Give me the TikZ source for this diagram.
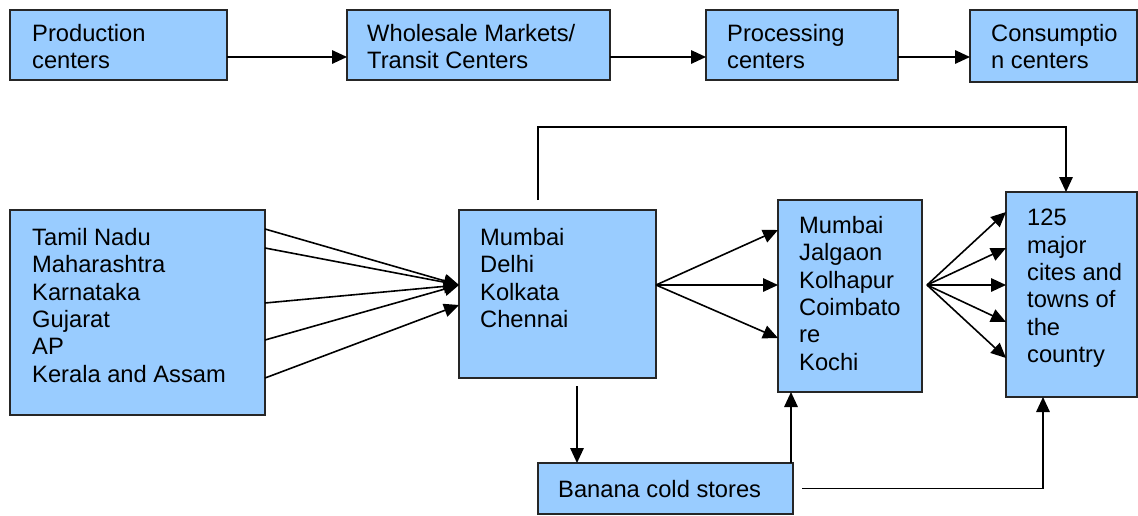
\documentclass[tikz,border=0pt]{standalone}
\usepackage{fontspec}
\setmainfont{Liberation Sans}
\usetikzlibrary{arrows.meta}
\definecolor{boxblue}{RGB}{153,204,255}
\begin{document}
\begin{tikzpicture}[x=1pt,y=-1pt,
  box/.style={draw=black!85, line width=1.7pt, fill=boxblue, inner sep=0pt, outer sep=0pt, anchor=north west},
  txt/.style={anchor=north west, inner sep=0pt, align=left, font=\fontsize{23.7}{27.4}\selectfont},
  conn/.style={line width=1.6pt, -{Triangle[length=15pt,width=13.5pt]}},
  plainline/.style={line width=1.6pt}]
\useasboundingbox (0,0) rectangle (1138,515);
% top row
\node[box, minimum width=217pt, minimum height=70pt] (p) at (10,10) {};
\node[box, minimum width=263pt, minimum height=70pt] (w) at (347,10) {};
\node[box, minimum width=192pt, minimum height=70pt] (pc) at (706,10) {};
\node[box, minimum width=167pt, minimum height=72pt] (cc) at (970,10) {};
\node[txt] (pt) at (32,24) {Production\\centers};
\node[txt] (wt) at (367,24) {Wholesale Markets/\\Transit Centers};
\node[txt] (pct) at (727,24) {Processing\\centers};
\node[txt] (cct) at (991,24) {Consumptio\\n centers};
\draw[conn] ([yshift=-47pt]p.north east) -- ([yshift=-47pt]w.north west);
\draw[conn] ([yshift=-47pt]w.north east) -- ([yshift=-47pt]pc.north west);
\draw[conn] ([yshift=-47pt]pc.north east) -- ([yshift=-47pt]cc.north west);
% bottom
\node[box, minimum width=255pt, minimum height=205pt] (l) at (10,210) {};
\node[box, minimum width=197pt, minimum height=168pt] (m) at (459,210) {};
\node[box, minimum width=144pt, minimum height=192pt] (b) at (778,200) {};
\node[box, minimum width=131pt, minimum height=205pt] (r) at (1006,192) {};
\node[box, minimum width=255pt, minimum height=51pt] (c) at (538,463) {};
\node[txt] (lt) at (32,228) {Tamil Nadu\\Maharashtra\\Karnataka\\Gujarat\\AP\\Kerala and Assam};
\node[txt] (mt) at (480,228) {Mumbai\\Delhi\\Kolkata\\Chennai};
\node[txt] (bt) at (799,216) {Mumbai\\Jalgaon\\Kolhapur\\Coimbato\\re\\Kochi};
\node[txt] (rt) at (1027,209) {125\\major\\cites and\\towns of\\the\\country};
\node[txt] (ct) at (558,480) {Banana cold stores};
% left fan
\draw[conn] ([yshift=-19pt]l.north east) -- ([yshift=-75pt]m.north west);
\draw[conn] ([yshift=-38pt]l.north east) -- ([yshift=-75pt]m.north west);
\draw[conn] ([yshift=-93pt]l.north east) -- ([yshift=-75pt]m.north west);
\draw[conn] ([yshift=-130pt]l.north east) -- ([yshift=-75pt]m.north west);
\draw[conn] ([yshift=-168pt]l.north east) -- ([yshift=-95pt]m.north west);
% middle fan
\draw[conn] ([yshift=-75pt]m.north east) -- ([yshift=-30pt]b.north west);
\draw[conn] ([yshift=-75pt]m.north east) -- ([yshift=-85pt]b.north west);
\draw[conn] ([yshift=-75pt]m.north east) -- ([yshift=-138pt]b.north west);
% right fan
\coordinate (fs) at ([xshift=5pt,yshift=-85pt]b.north east);
\draw[conn] (fs) -- ([yshift=-20pt]r.north west);
\draw[conn] (fs) -- ([yshift=-56pt]r.north west);
\draw[conn] (fs) -- ([yshift=-93pt]r.north west);
\draw[conn] (fs) -- ([yshift=-130pt]r.north west);
\draw[conn] (fs) -- ([yshift=-166pt]r.north west);
% top bypass
\coordinate (ms) at ([xshift=79pt,yshift=10pt]m.north west);
\coordinate (tc) at (1066,127);
\draw[conn] (ms) |- (tc) -- ([xshift=60pt]r.north west);
% cold stores
\coordinate (md) at ([xshift=118pt,yshift=-8pt]m.south west);
\draw[conn] (md) -- (md |- c.north);
\coordinate (cu) at ([xshift=-2pt]c.north east);
\draw[conn] (cu) -- (cu |- b.south);
\draw[conn] ([xshift=9pt]c.east) -| ([xshift=37pt]r.south west);
\end{tikzpicture}
\end{document}
